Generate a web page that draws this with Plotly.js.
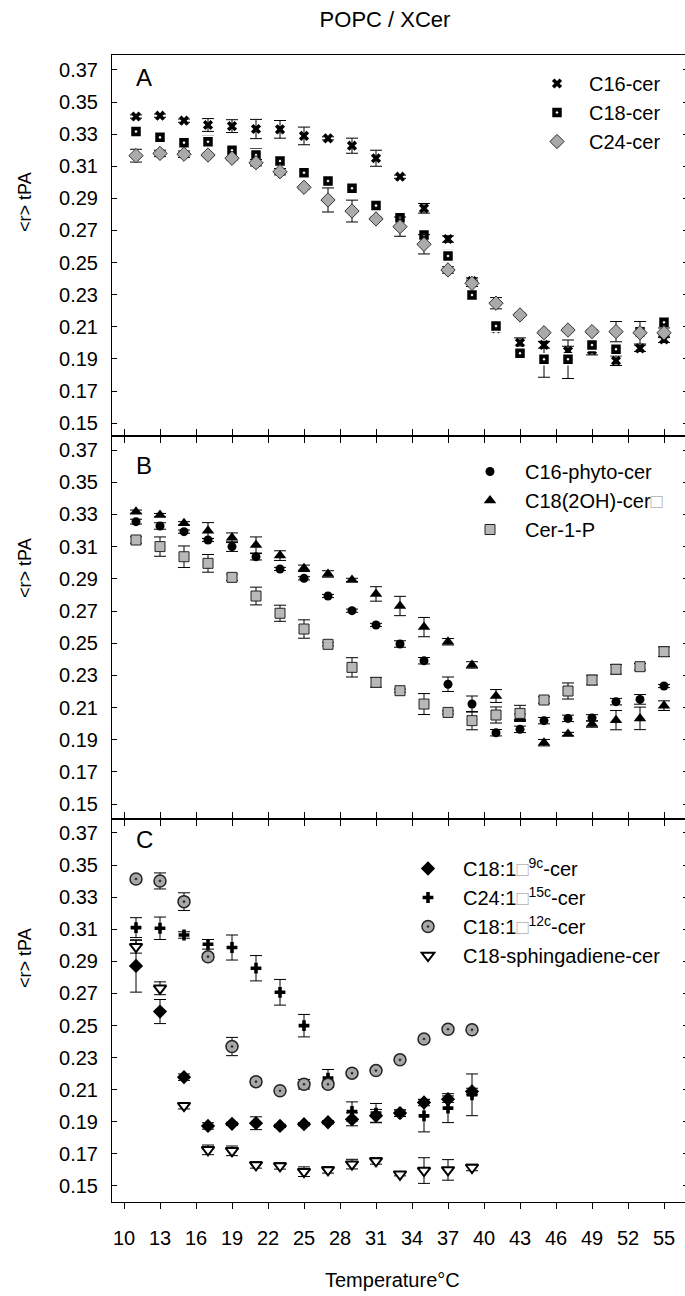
<!DOCTYPE html>
<html>
<head>
<meta charset="utf-8">
<script src="https://cdn.plot.ly/plotly-3.0.1.min.js"></script>
<style>html,body{margin:0;padding:0;background:#fff;overflow:hidden}#chart{width:688px;height:1296px}</style>
</head>
<body>
<div id="chart"></div>
<script>
// ---- data ----
const tempsAB = [11,13,15,17,19,21,23,25,27,29,31,33,35,37,39,41,43,45,47,49,51,53,55];
const tempsC  = [11,13,15,17,19,21,23,25,27,29,31,33,35,37,39];
const xTicks = [10,13,16,19,22,25,28,31,34,37,40,43,46,49,52,55];
const yTicks = [0.15,0.17,0.19,0.21,0.23,0.25,0.27,0.29,0.31,0.33,0.35,0.37];

// Panel A
const c16cer    = [0.341,0.3415,0.3384,0.3357,0.335,0.3332,0.333,0.3289,0.3274,0.3228,0.315,0.3035,0.2838,0.2647,0.2385,0.209,0.2001,0.1987,0.1949,0.1955,0.1889,0.1966,0.2022];
const c16cerErr = [0.001,0.001,0.001,0.004,0.004,0.006,0.0055,0.0055,0.001,0.0047,0.005,0.001,0.003,0.002,0.002,0.002,0.003,0.002,0.003,0.003,0.003,0.002,0.002];
const c18cer    = [0.3316,0.328,0.3247,0.3253,0.32,0.317,0.3133,0.306,0.3008,0.2963,0.2855,0.278,0.2672,0.2541,0.2298,0.2105,0.1935,0.1898,0.1898,0.1987,0.196,0.207,0.2128];
const c18cerErr = [0.0015,0.0015,0.0015,0.0035,0.002,0.004,0.002,0.002,0.003,0.002,0.001,0.002,0.002,0.0035,0.002,0.002,0.002,0.0112,0.012,0.002,0.003,0.002,0.002];
const c24cer    = [0.3166,0.318,0.3175,0.317,0.315,0.3122,0.3066,0.2969,0.289,0.2821,0.2772,0.2724,0.2614,0.2454,0.2371,0.2247,0.2174,0.2063,0.208,0.207,0.207,0.2063,0.2063];
const c24cerErr = [0.004,0.002,0.002,0.001,0.001,0.002,0.002,0.001,0.0075,0.0068,0.001,0.006,0.006,0.002,0.002,0.0035,0.001,0.001,0.001,0.001,0.0063,0.007,0.003];

// Panel B
const phyto    = [0.3255,0.3228,0.3193,0.3141,0.31,0.3037,0.2961,0.2903,0.2793,0.2702,0.2613,0.2495,0.2391,0.2245,0.2122,0.1944,0.1965,0.2019,0.2033,0.2036,0.2137,0.2151,0.2234];
const phytoErr = [0.0015,0.002,0.001,0.001,0.003,0.002,0.001,0.001,0.001,0.001,0.001,0.002,0.002,0.0045,0.005,0.002,0.002,0.002,0.002,0.002,0.002,0.003,0.001];
const c18oh    = [0.3317,0.3296,0.3245,0.3199,0.3155,0.311,0.3044,0.2965,0.293,0.2893,0.2806,0.2731,0.26,0.2509,0.2365,0.2172,0.204,0.1882,0.1936,0.1998,0.2022,0.2033,0.2112];
const c18ohErr = [0.001,0.001,0.001,0.005,0.003,0.005,0.003,0.002,0.002,0.001,0.0045,0.006,0.006,0.002,0.002,0.004,0.002,0.002,0.001,0.002,0.006,0.007,0.003];
const cer1p    = [0.3141,0.31,0.3037,0.2996,0.2909,0.2793,0.2686,0.2588,0.2493,0.235,0.2257,0.2205,0.2122,0.207,0.2019,0.2054,0.2064,0.2147,0.2203,0.2271,0.2338,0.2354,0.2447];
const cer1pErr = [0.002,0.006,0.0067,0.0055,0.002,0.0055,0.005,0.0057,0.001,0.006,0.003,0.001,0.0065,0.001,0.0057,0.005,0.005,0.002,0.005,0.003,0.003,0.002,0.003];

// Panel C
const c18_9c     = [0.2871,0.2587,0.2178,0.1874,0.1887,0.1891,0.1874,0.1885,0.1897,0.1915,0.1937,0.1954,0.202,0.2041,0.2089];
const c18_9cErr  = [0.0163,0.0075,0.002,0.002,0.001,0.004,0.001,0.001,0.001,0.004,0.004,0.002,0.002,0.002,0.002];
const c24_15c    = [0.311,0.3106,0.3064,0.3006,0.2986,0.2857,0.2707,0.2499,0.2172,0.1964,0.1954,0.1954,0.1937,0.1985,0.2068];
const c24_15cErr = [0.0062,0.007,0.002,0.003,0.0078,0.0079,0.008,0.007,0.0054,0.006,0.006,0.002,0.01,0.009,0.013];
const c18_12c    = [0.3413,0.3401,0.3272,0.2929,0.2369,0.215,0.2093,0.2134,0.2134,0.2203,0.2219,0.2286,0.2416,0.2477,0.2473];
const c18_12cErr = [0.001,0.005,0.0055,0.002,0.0057,0.002,0.001,0.003,0.002,0.001,0.001,0.001,0.001,0.001,0.001];
const sphinga    = [0.2991,0.2732,0.2,0.1725,0.1719,0.1631,0.1625,0.1589,0.16,0.1636,0.1656,0.1573,0.1596,0.16,0.1615];
const sphingaErr = [0.004,0.004,0.002,0.003,0.003,0.002,0.002,0.003,0.002,0.003,0.002,0.001,0.008,0.0064,0.002];

// ---- build ----
const FONT = 'Liberation Sans, Arial, sans-serif';
const box = '<span style="color:#b0b0b0">\u25A1</span>';

function tr(name, x, y, err, xa, ya, leg, marker) {
  return {
    type: 'scatter', mode: 'markers', name: name, x: x, y: y,
    xaxis: xa, yaxis: ya, legend: leg,
    error_y: {type: 'data', array: err, visible: true, color: '#000', thickness: 1, width: 6},
    marker: marker, cliponaxis: false
  };
}

const traces = [
  tr('C16-cer', tempsAB, c16cer, c16cerErr, 'x', 'y', 'legend',
     {symbol: 'x', size: 9, color: '#000', line: {width: 0}}),
  tr('C18-cer', tempsAB, c18cer, c18cerErr, 'x', 'y', 'legend',
     {symbol: 'square-dot', size: 11, color: '#000', line: {width: 1.5, color: '#fff'}}),
  tr('C24-cer', tempsAB, c24cer, c24cerErr, 'x', 'y', 'legend',
     {symbol: 'diamond', size: 11, color: '#aaaaaa', line: {width: 1, color: '#333'}}),

  tr('C16-phyto-cer', tempsAB, phyto, phytoErr, 'x2', 'y2', 'legend2',
     {symbol: 'circle', size: 9, color: '#000', line: {width: 0}}),
  tr('C18(2OH)-cer' + box, tempsAB, c18oh, c18ohErr, 'x2', 'y2', 'legend2',
     {symbol: 'triangle-up', size: 11, color: '#000', line: {width: 0}}),
  tr('Cer-1-P', tempsAB, cer1p, cer1pErr, 'x2', 'y2', 'legend2',
     {symbol: 'square', size: 10, color: '#b8b8b8', line: {width: 1, color: '#222'}}),

  tr('C18:1' + box + '<sup>9c</sup>-cer', tempsC, c18_9c, c18_9cErr, 'x3', 'y3', 'legend3',
     {symbol: 'diamond', size: 11, color: '#000', line: {width: 0}}),
  tr('C24:1' + box + '<sup>15c</sup>-cer', tempsC, c24_15c, c24_15cErr, 'x3', 'y3', 'legend3',
     {symbol: 'cross', size: 9, color: '#000', line: {width: 0}}),
  tr('C18:1' + box + '<sup>12c</sup>-cer', tempsC, c18_12c, c18_12cErr, 'x3', 'y3', 'legend3',
     {symbol: 'circle-dot', size: 12, color: '#a8a8a8', line: {width: 1.5, color: '#222'}}),
  tr('C18-sphingadiene-cer', tempsC, sphinga, sphingaErr, 'x3', 'y3', 'legend3',
     {symbol: 'triangle-down', size: 11, color: '#fff', line: {width: 2, color: '#000'}})
];

// figure is 3px wider than the window so the right frame line falls just outside the picture
const W = 688, H = 1296, ML = 112, MR = 0, MT = 55, MB = 94;
const PW = W - ML - MR, PH = H - MT - MB;
const dC = [0, 383 / PH], dB = [383 / PH, 766 / PH], dA = [766 / PH, 1];
const py = (pix) => (H - MB - pix) / PH;    // pixel y -> paper y
const px = (pix) => (pix - ML) / PW;        // pixel x -> paper x

const xBase = {
  range: [9, 57], tickvals: xTicks, ticktext: xTicks.map(String),
  showline: true, linecolor: '#000', linewidth: 1, showgrid: false, zeroline: false,
  ticklen: 6, tickcolor: '#000', tickwidth: 1,
  tickfont: {family: FONT, size: 20, color: '#000'}
};
const yBase = {
  tickvals: yTicks, ticktext: yTicks.map(v => v.toFixed(2)),
  showline: true, linecolor: '#000', linewidth: 1, showgrid: false, zeroline: false,
  ticks: 'inside', ticklen: 5, tickcolor: '#000', mirror: 'ticks',
  tickfont: {family: FONT, size: 20, color: '#000'}, ticklabelstandoff: 9
};
const legBase = {
  font: {family: FONT, size: 20, color: '#000'}, bgcolor: 'rgba(0,0,0,0)',
  borderwidth: 0, xanchor: 'left', yanchor: 'top', itemwidth: 54, itemclick: false
};
function ann(text, x, y, size, extra) {
  return Object.assign({text: text, xref: 'paper', yref: 'paper', x: px(x), y: py(y),
    xanchor: 'center', yanchor: 'middle', showarrow: false,
    font: {family: FONT, size: size, color: '#000'}}, extra || {});
}

const layout = {
  width: W, height: H,
  margin: {l: ML, r: MR, t: MT, b: MB, pad: 0},
  paper_bgcolor: '#fff', plot_bgcolor: '#fff',
  font: {family: FONT, color: '#000'},
  title: {text: 'POPC / XCer', x: 385 / W, xref: 'container', xanchor: 'center',
          y: 1 - 19 / H, yref: 'container', yanchor: 'middle',
          font: {family: FONT, size: 22, color: '#000'}},
  showlegend: true,
  xaxis:  Object.assign({}, xBase, {anchor: 'y',  ticks: 'outside', mirror: true, showticklabels: false}),
  xaxis2: Object.assign({}, xBase, {anchor: 'y2', ticks: 'outside', mirror: 'ticks', showticklabels: false}),
  xaxis3: Object.assign({}, xBase, {anchor: 'y3', ticks: 'outside', mirror: 'ticks', showticklabels: true, ticklabelstandoff: 12}),
  xaxis4: Object.assign({}, xBase, {anchor: 'y3', overlaying: 'x3', ticks: 'inside', showline: false, showticklabels: false}),
  yaxis:  Object.assign({}, yBase, {domain: dA, range: [0.142, 0.3793]}),
  yaxis2: Object.assign({}, yBase, {domain: dB, range: [0.1408, 0.3787]}),
  yaxis3: Object.assign({}, yBase, {domain: dC, range: [0.140, 0.3787]}),
  legend:  Object.assign({}, legBase, {x: px(525), y: py(64)}),
  legend2: Object.assign({}, legBase, {x: px(455), y: py(452), itemwidth: 60}),
  legend3: Object.assign({}, legBase, {x: px(393), y: py(849), itemwidth: 60}),
  annotations: [
    ann('A', 144, 78, 24),
    ann('B', 144, 466, 24),
    ann('C', 144, 840, 24),
    ann('&lt;r&gt; tPA', 25, 202, 18, {textangle: -90}),
    ann('&lt;r&gt; tPA', 25, 568, 18, {textangle: -90}),
    ann('&lt;r&gt; tPA', 25, 958, 18, {textangle: -90}),
    ann('Temperature°C', 392, 1280, 20)
  ]
};

Plotly.newPlot('chart', traces, layout, {staticPlot: true, displayModeBar: false});
</script>
</body>
</html>
